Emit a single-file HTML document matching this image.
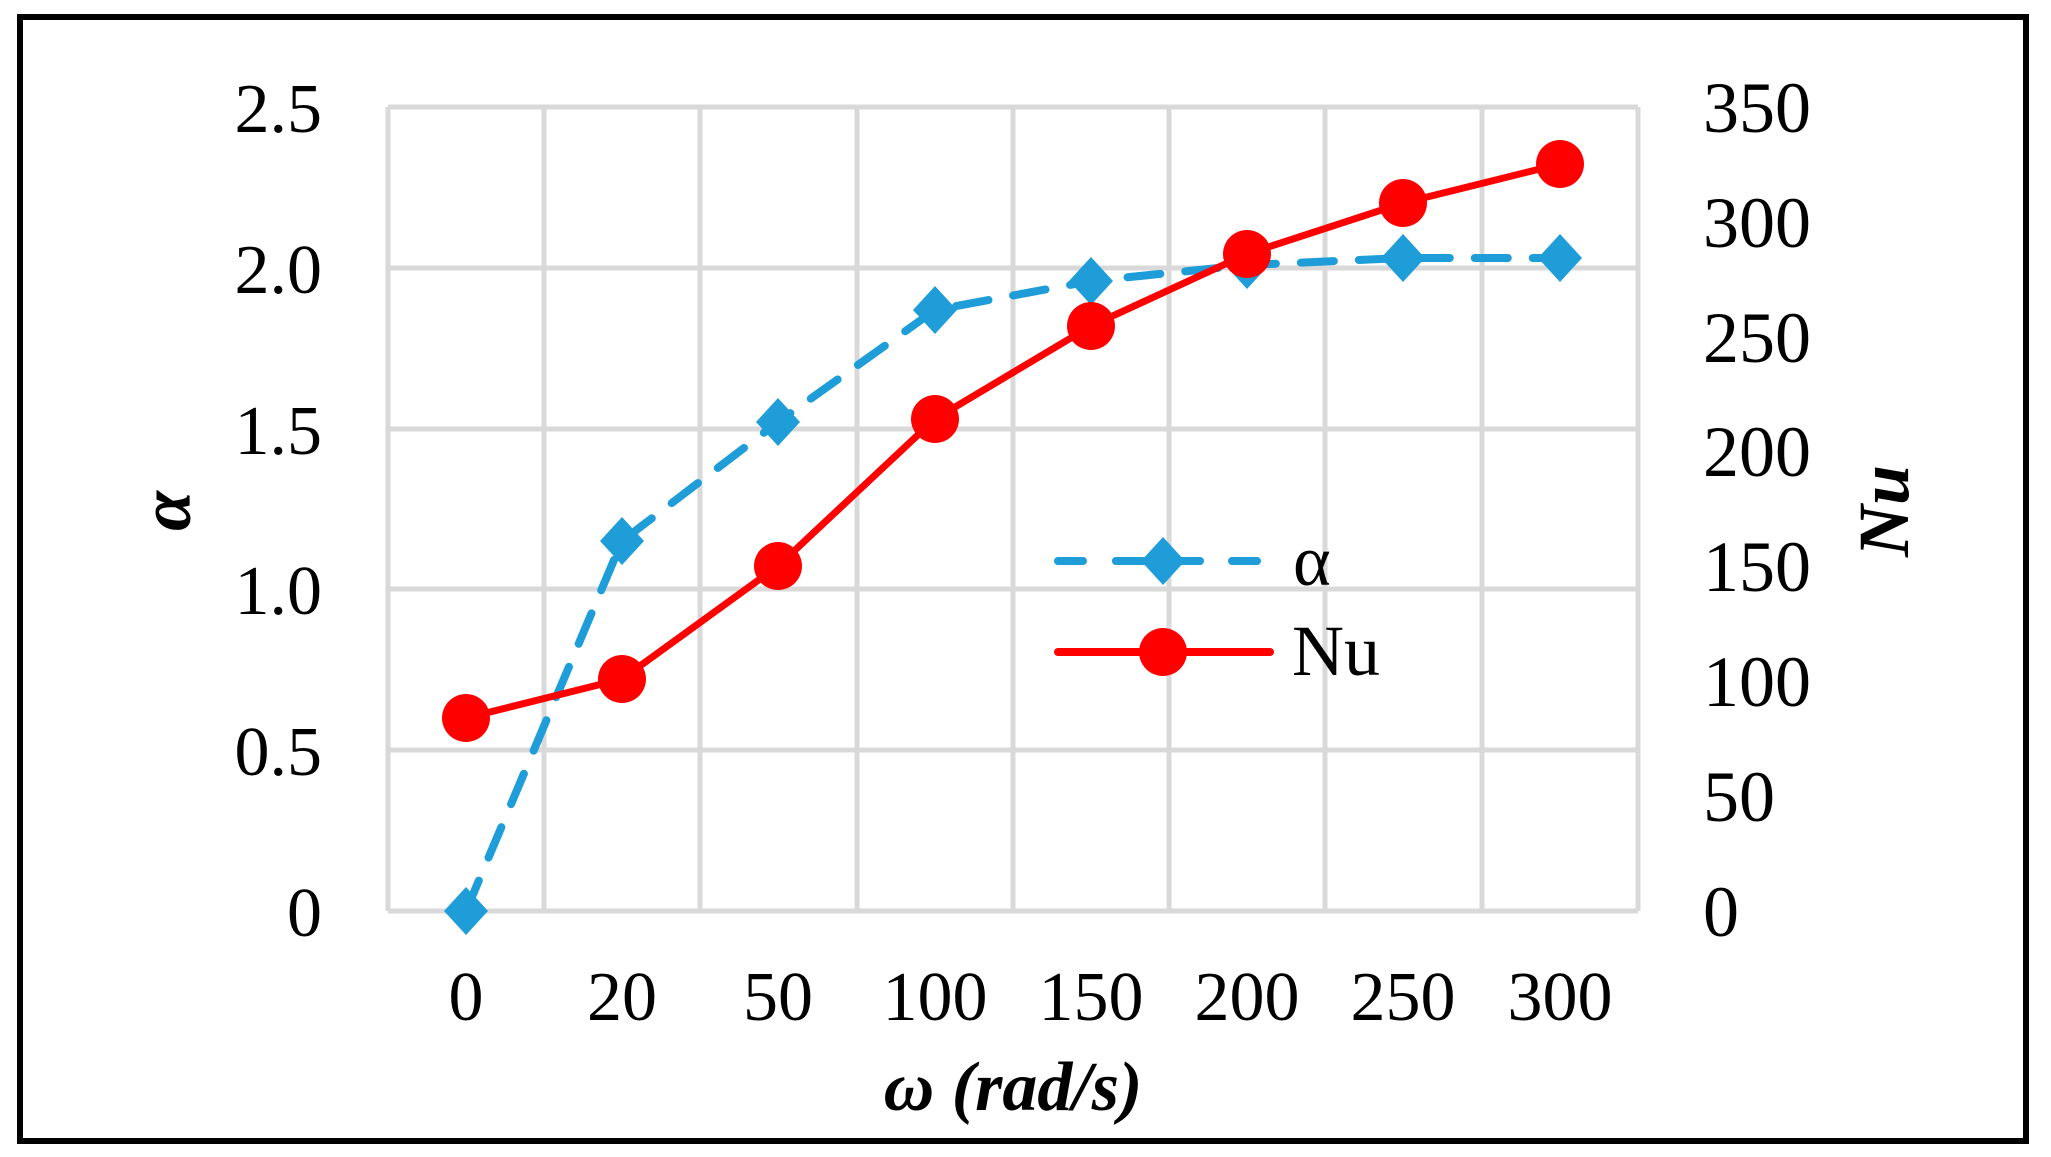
<!DOCTYPE html>
<html><head><meta charset="utf-8"><style>html,body{margin:0;padding:0;background:#fff}svg{display:block}</style></head>
<body>
<svg width="2051" height="1157" xmlns="http://www.w3.org/2000/svg" font-family="'Liberation Serif', serif">
<rect x="0" y="0" width="2051" height="1157" fill="#fff"/>
<rect x="20" y="17" width="2006" height="1124" fill="none" stroke="#000" stroke-width="6"/>
<g stroke="#d9d9d9" stroke-width="5">
<line x1="388" y1="107" x2="1638" y2="107"/>
<line x1="388" y1="268" x2="1638" y2="268"/>
<line x1="388" y1="429" x2="1638" y2="429"/>
<line x1="388" y1="589" x2="1638" y2="589"/>
<line x1="388" y1="750" x2="1638" y2="750"/>
<line x1="388" y1="911" x2="1638" y2="911"/>
<line x1="388" y1="107" x2="388" y2="911"/>
<line x1="544" y1="107" x2="544" y2="911"/>
<line x1="700" y1="107" x2="700" y2="911"/>
<line x1="857" y1="107" x2="857" y2="911"/>
<line x1="1013" y1="107" x2="1013" y2="911"/>
<line x1="1169" y1="107" x2="1169" y2="911"/>
<line x1="1325" y1="107" x2="1325" y2="911"/>
<line x1="1482" y1="107" x2="1482" y2="911"/>
<line x1="1638" y1="107" x2="1638" y2="911"/>
</g>
<g font-size="70" text-anchor="end" fill="#000">
<text x="322" y="132">2.5</text><text x="322" y="293">2.0</text><text x="322" y="454">1.5</text>
<text x="322" y="614">1.0</text><text x="322" y="775">0.5</text><text x="322" y="936">0</text>
</g>
<g font-size="72" text-anchor="start" fill="#000">
<text x="1703" y="132">350</text><text x="1703" y="247">300</text><text x="1703" y="362">250</text>
<text x="1703" y="476">200</text><text x="1703" y="591">150</text><text x="1703" y="706">100</text>
<text x="1703" y="821">50</text><text x="1703" y="936">0</text>
</g>
<g font-size="70" text-anchor="middle" fill="#000">
<text x="466" y="1020">0</text><text x="622" y="1020">20</text><text x="778" y="1020">50</text>
<text x="935" y="1020">100</text><text x="1091" y="1020">150</text><text x="1247" y="1020">200</text>
<text x="1403" y="1020">250</text><text x="1560" y="1020">300</text>
</g>
<text x="1013" y="1110" font-size="70" font-weight="bold" font-style="italic" text-anchor="middle">ω (rad/s)</text>
<text transform="translate(190,511) rotate(-90)" font-size="72" font-weight="bold" font-style="italic" text-anchor="middle">α</text>
<text transform="translate(1908,511) rotate(-90)" font-size="72" font-weight="bold" font-style="italic" text-anchor="middle">Nu</text>
<polyline fill="none" stroke="#1f9dd9" stroke-width="8" stroke-dasharray="33,25" stroke-linecap="round"
 points="466,911 622,541 778,422 935,310 1091,281 1247,265 1403,258 1560,258"/>
<g fill="#1f9dd9">
<polygon points="466,887 488,911 466,935 444,911"/>
<polygon points="622,517 644,541 622,565 600,541"/>
<polygon points="778,398 800,422 778,446 756,422"/>
<polygon points="935,286 957,310 935,334 913,310"/>
<polygon points="1091,257 1113,281 1091,305 1069,281"/>
<polygon points="1247,241 1269,265 1247,289 1225,265"/>
<polygon points="1403,234 1425,258 1403,282 1381,258"/>
<polygon points="1560,234 1582,258 1560,282 1538,258"/>
</g>
<polyline fill="none" stroke="#ff0000" stroke-width="7"
 points="466,718 622,679 778,566 935,419 1091,326 1247,254 1403,203 1560,164"/>
<g fill="#ff0000">
<circle cx="466" cy="718" r="24"/><circle cx="622" cy="679" r="24"/><circle cx="778" cy="566" r="24"/>
<circle cx="935" cy="419" r="24"/><circle cx="1091" cy="326" r="24"/><circle cx="1247" cy="254" r="24"/>
<circle cx="1403" cy="203" r="24"/><circle cx="1560" cy="164" r="24"/>
</g>
<line x1="1058" y1="561" x2="1260" y2="561" stroke="#1f9dd9" stroke-width="8" stroke-dasharray="25,33" stroke-linecap="round"/>
<line x1="1116" y1="561" x2="1200" y2="561" stroke="#1f9dd9" stroke-width="8" stroke-linecap="round"/>
<polygon points="1163,537 1185,561 1163,585 1141,561" fill="#1f9dd9"/>
<text x="1293" y="585" font-size="72">α</text>
<line x1="1058" y1="652" x2="1270" y2="652" stroke="#ff0000" stroke-width="8" stroke-linecap="round"/>
<circle cx="1163" cy="652" r="24" fill="#ff0000"/>
<text x="1292" y="675" font-size="72">Nu</text>
</svg>
</body></html>
